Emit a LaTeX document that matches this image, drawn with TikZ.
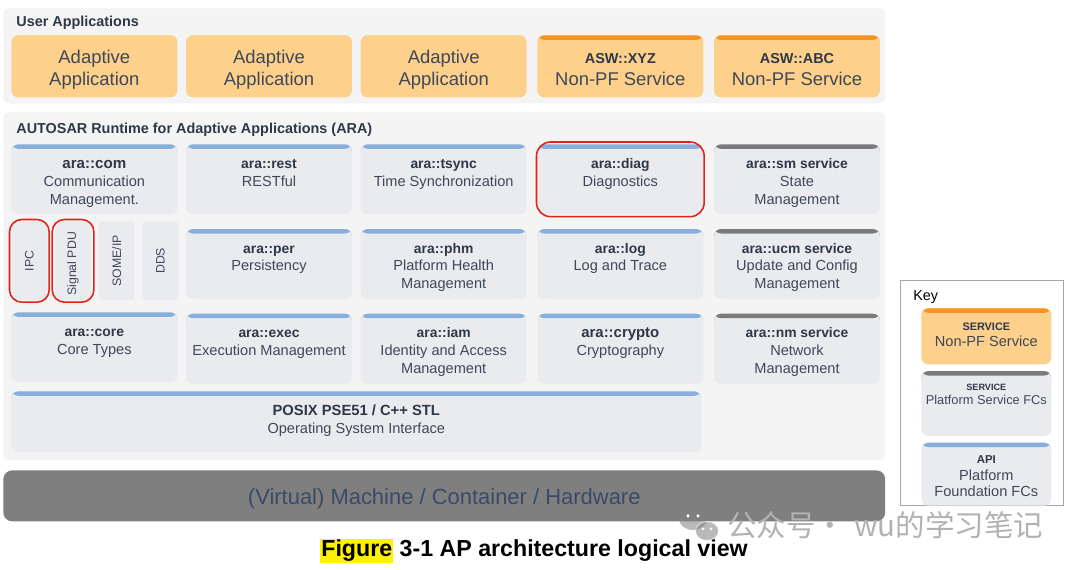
\documentclass[tikz,border=0pt]{standalone}
\usepackage{fontspec}
\setmainfont{Liberation Sans}
\newfontfamily\cjkfont{Noto Sans CJK SC}
\usepackage{tikz}
\usetikzlibrary{positioning,fit}

\definecolor{panelgray}{HTML}{F4F4F4}
\definecolor{fcfill}{HTML}{E9EBEF}
\definecolor{appfill}{HTML}{FDD08B}
\definecolor{barblue}{HTML}{88AEDB}
\definecolor{bargray}{HTML}{7A7A7A}
\definecolor{barorange}{HTML}{F7941E}
\definecolor{ringred}{HTML}{E2231A}
\definecolor{txtslate}{HTML}{3F4858}
\definecolor{boldslate}{HTML}{2F3847}
\definecolor{machgray}{HTML}{7F7F7F}
\definecolor{machtext}{HTML}{3A4A66}
\definecolor{keyframe}{HTML}{A6A6A6}
\definecolor{wmgray}{HTML}{B2B2B2}

\tikzset{
  panel/.style={fill=panelgray, rounded corners=3pt, anchor=north west,
    inner sep=0pt},
  paneltitle/.style={anchor=west, inner sep=0pt, text=boldslate,
    font=\bfseries\fontsize{8.2}{10}\selectfont},
  topbar/.style={path picture={\fill[#1] (path picture bounding box.north west)
    rectangle ([yshift=-0.09cm]path picture bounding box.north east);}},
  appbox/.style={fill=appfill, rounded corners=4pt, anchor=north west,
    inner sep=0pt, minimum width=3.32cm, minimum height=1.24cm},
  apptext/.style={inner sep=0pt, align=center, text=txtslate,
    font=\fontsize{10.5}{12.5}\selectfont},
  fcbox/.style={fill=fcfill, rounded corners=4pt, anchor=north west,
    inner sep=0pt, minimum width=3.32cm, minimum height=1.4cm},
  fctext/.style={anchor=north, inner sep=0pt, align=center, text=txtslate,
    font=\fontsize{8.3}{10.2}\selectfont},
  ipcbox/.style={fill=fcfill, rounded corners=2pt, anchor=north west,
    inner sep=0pt, minimum width=0.72cm, minimum height=1.58cm},
  ipctext/.style={rotate=90, inner sep=0pt, text=txtslate,
    font=\fontsize{7}{8}\selectfont},
  redring/.style={draw=ringred, line width=0.9pt, rounded corners=7pt,
    inner sep=0.03cm},
}

\newcommand{\api}[1]{{\bfseries\fontsize{7.9}{10.2}\selectfont\color{boldslate}#1}}
\newcommand{\fcbox}[4][]{%
  \node[fcbox, topbar=#3, #1] (#2) {};
  \node[fctext] (#2-txt) at ([yshift=-0.23cm]#2.north) {\strut#4};
}
\newcommand{\appbox}[4][]{%
  \node[appbox, topbar=#3, #1] (#2) {};
  \node[apptext] (#2-txt) at ([yshift=-0.07cm]#2.center) {#4};
}

\begin{document}
\begin{tikzpicture}[x=0.02cm, y=-0.02cm]
  \useasboundingbox[fill=white] (0,0) rectangle (1080,570);

  % User applications
  \node[panel, minimum width=17.64cm, minimum height=1.9cm] (userpanel) at (3,8) {};
  \node[paneltitle] (usertitle) at (16,23) {User Applications};
  \appbox[at={(11,35)}]{app1}{appfill}{Adaptive\\Application}
  \appbox[right=0.16cm of app1]{app2}{appfill}{Adaptive\\Application}
  \appbox[right=0.16cm of app2]{app3}{appfill}{Adaptive\\Application}
  \appbox[right=0.2cm of app3]{xyz}{barorange}
    {{\bfseries\fontsize{8.2}{10}\selectfont\color{boldslate}ASW::XYZ}\\Non-PF Service}
  \appbox[right=0.2cm of xyz]{abc}{barorange}
    {{\bfseries\fontsize{8.2}{10}\selectfont\color{boldslate}ASW::ABC}\\Non-PF Service}

  % ARA
  \node[panel, minimum width=17.64cm, minimum height=6.96cm] (arapanel) at (3,112) {};
  \node[paneltitle] (aratitle) at (16,130)
    {AUTOSAR Runtime for Adaptive Applications (ARA)};

  % row 1
  \fcbox[at={(11,144)}]{com}{barblue}{\fontsize{9.5}{11}\selectfont
    {\bfseries\fontsize{8.6}{11}\selectfont\color{boldslate}ara::com}\\Communication\\Management.}
  \fcbox[right=0.16cm of com]{rest}{barblue}{\api{ara::rest}\\RESTful}
  \fcbox[right=0.16cm of rest]{tsync}{barblue}{\api{ara::tsync}\\Time Synchronization}
  \fcbox[right=0.2cm of tsync]{diag}{barblue}{\api{ara::diag}\\Diagnostics}
  \fcbox[right=0.2cm of diag]{sm}{bargray}{\api{ara::sm service}\\State\\Management}

  % row 2
  \node[ipcbox] (ipc) at (11,221) {};
  \node[ipcbox, right=0.14cm of ipc] (sigpdu) {};
  \node[ipcbox, right=0.14cm of sigpdu] (someip) {};
  \node[ipcbox, right=0.14cm of someip] (dds) {};
  \node[ipctext] (ipc-txt) at (ipc) {IPC};
  \node[ipctext] (sigpdu-txt) at ([yshift=-0.06cm]sigpdu.center) {Signal PDU};
  \node[ipctext] (someip-txt) at (someip) {SOME/IP};
  \node[ipctext] (dds-txt) at (dds) {DDS};
  \fcbox[below=0.28cm of rest]{per}{barblue}{\api{ara::per}\\Persistency}
  \fcbox[below=0.28cm of tsync]{phm}{barblue}{\api{ara::phm}\\Platform Health\\Management}
  \fcbox[below=0.28cm of diag]{log}{barblue}{\api{ara::log}\\Log and Trace}
  \fcbox[below=0.28cm of sm]{ucm}{bargray}{\api{ara::ucm service}\\Update and Config\\Management}

  % row 3
  \fcbox[at={(11,312)}]{core}{barblue}{\api{ara::core}\\Core Types}
  \fcbox[below=0.28cm of per]{exec}{barblue}{\api{ara::exec}\\Execution Management}
  \fcbox[below=0.28cm of phm]{iam}{barblue}{\api{ara::iam}\\Identity and Access\\Management}
  \fcbox[below=0.28cm of log]{crypto}{barblue}{\fontsize{9.4}{11}\selectfont
    {\bfseries\fontsize{8.5}{11}\selectfont\color{boldslate}ara::crypto}\\Cryptography}
  \fcbox[below=0.28cm of ucm]{nm}{bargray}{\api{ara::nm service}\\Network\\Management}

  % OS interface
  \fcbox[at={(11,391)}, minimum width=13.8cm, minimum height=1.22cm]{posix}{barblue}
    {\fontsize{9.6}{10.8}\selectfont
    {\bfseries\fontsize{8.4}{10.8}\selectfont\color{boldslate}POSIX PSE51 / C++ STL}\\Operating System Interface}

  % highlighted
  \node[redring, fit=(ipc)] (ipcring) {};
  \node[redring, fit=(sigpdu), inner xsep=0.05cm] (sigring) {};
  \node[redring, fit=(diag), inner xsep=0.01cm, inner ysep=0.04cm,
        rounded corners=8pt] (diagring) {};

  % machine
  \node[fill=machgray, rounded corners=5pt, anchor=north west, inner sep=0pt,
        minimum width=17.64cm, minimum height=1.02cm] (machine) at (3,470) {};
  \node[inner sep=0pt, text=machtext, font=\fontsize{12.5}{15}\selectfont]
    (machine-txt) at ([yshift=-0.05cm]machine.center)
    {(Virtual) Machine / Container / Hardware};

  % Key
  \node[draw=keyframe, fill=white, anchor=north west, inner sep=0pt,
        minimum width=3.26cm, minimum height=4.5cm] (keyframe) at (900,280) {};
  \node[anchor=west, inner sep=0pt, font=\fontsize{8.2}{10}\selectfont]
    (keytitle) at (913,297) {Key};
  \node[appbox, topbar=barorange, minimum width=2.6cm, minimum height=1.12cm]
    (keysvc) at (921,308) {};
  \node[apptext, font=\fontsize{8.3}{9.5}\selectfont] (keysvc-txt)
    at ([yshift=0.03cm]keysvc.center)
    {{\bfseries\fontsize{6.2}{9.5}\selectfont\color{boldslate}SERVICE}\\Non-PF Service};
  \node[fcbox, topbar=bargray, minimum width=2.6cm, minimum height=1.3cm,
        below=0.12cm of keysvc] (keyplat) {};
  \node[fctext, font=\fontsize{7.3}{8}\selectfont] (keyplat-txt)
    at ([yshift=-0.2cm]keyplat.north)
    {\strut{\bfseries\fontsize{5.2}{8}\selectfont\color{boldslate}SERVICE}\\Platform Service FCs};
  \node[fcbox, topbar=barblue, minimum width=2.6cm, minimum height=1.26cm,
        below=0.12cm of keyplat] (keyapi) {};
  \node[apptext, font=\fontsize{8.3}{9.4}\selectfont] (keyapi-txt)
    at ([yshift=-0.04cm]keyapi.center)
    {{\bfseries\fontsize{6.5}{9.4}\selectfont\color{boldslate}API}\\Platform\\Foundation FCs};

  % caption
  \node[inner sep=0pt, font=\bfseries\fontsize{13.2}{16}\selectfont] (caption) at (534,551)
    {{\setlength{\fboxsep}{0.6pt}\colorbox{yellow}{Figure}} 3-1 AP architecture logical view};

  % watermark
  \fill[gray, opacity=0.55] (693,519) ellipse [x radius=0.28cm, y radius=0.22cm];
  \fill[gray, opacity=0.55, draw=white, line width=0.6pt] (707,531)
    ellipse [x radius=0.23cm, y radius=0.19cm];
  \fill[white] (688,516) circle (0.035cm) (698,516) circle (0.035cm)
    (703,529) circle (0.03cm) (711,529) circle (0.03cm);
  \node[anchor=west, inner sep=0pt, text=wmgray,
        font=\cjkfont\fontsize{16.8}{19}\selectfont] (wmark) at (727,525)
    {公众号·\hspace{0.3em}wu的学习笔记};
\end{tikzpicture}
\end{document}
